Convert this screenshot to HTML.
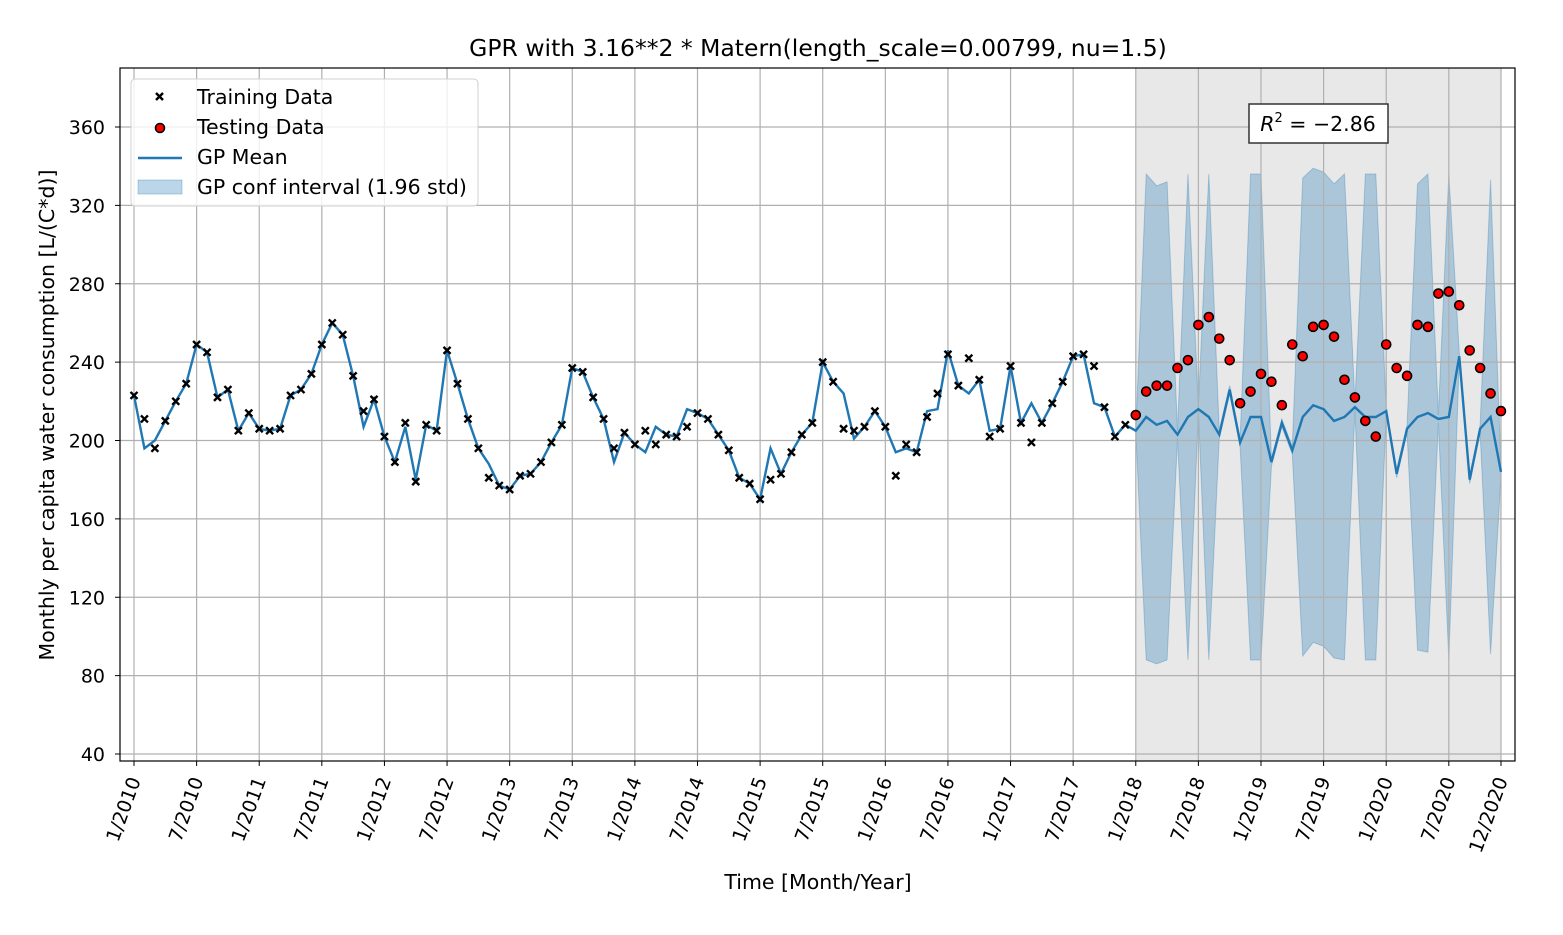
<!DOCTYPE html>
<html><head><meta charset="utf-8"><style>
body{margin:0;background:#fff;}
svg text{font-family:"DejaVu Sans","Liberation Sans",sans-serif;}
</style></head><body>
<svg id="chart" width="1563" height="930" xmlns="http://www.w3.org/2000/svg"></svg>
<script>
const training = [223,211,196,210,220,229,249,245,222,226,205,214,206,205,206,223,226,234,249,260,254,233,215,221,202,189,209,179,208,205,246,229,211,196,181,177,175,182,183,189,199,208,237,235,222,211,196,204,198,205,198,203,202,207,214,211,203,195,181,178,170,180,183,194,203,209,240,230,206,205,207,215,207,182,198,194,212,224,244,228,242,231,202,206,238,209,199,209,219,230,243,244,238,217,202,208];
const testing = [213,225,228,228,237,241,259,263,252,241,219,225,234,230,218,249,243,258,259,253,231,222,210,202,249,237,233,259,258,275,276,269,246,237,224,215];
const gpMean = [223,196,200,210,220,229,249,245,222,226,205,214,206,205,206,223,226,234,249,260,254,233,207,221,202,189,207,180,208,205,246,229,211,196,188,177,175,182,183,189,199,208,237,235,222,211,189,204,198,194,207,203,202,216,214,211,203,195,181,178,170,196,183,194,203,209,240,230,224,201,207,215,207,194,196,194,215,216,246,228,224,231,205,206,238,209,219,209,219,230,243,244,219,217,202,208,
205,212,208,210,203,212,216,212,203,226,199,212,212,189,209,195,212,218,216,210,212,217,212,212,215,183,206,212,214,211,212,243,180,206,212,184];
const ciHalf = [0,124,122,122,2,124,2,124,2,2,2,124,124,2,2,2,122,121,121,121,124,2,124,124,2,2,2,119,122,2,124,2,2,2,121,2];
const yTicks = [40,80,120,160,200,240,280,320,360];
const xTickIdx = [0,6,12,18,24,30,36,42,48,54,60,66,72,78,84,90,96,102,108,114,120,126,131];
const xTickLabels = ["1/2010","7/2010","1/2011","7/2011","1/2012","7/2012","1/2013","7/2013","1/2014","7/2014","1/2015","7/2015","1/2016","7/2016","1/2017","7/2017","1/2018","7/2018","1/2019","7/2019","1/2020","7/2020","12/2020"];

const NS="http://www.w3.org/2000/svg", svg=document.getElementById('chart');
const L=120,R=1515,T=68,B=761;
const X=i=>134+i*(1501-134)/131;
const Y=v=>754-(v-40)*(754-127)/320;
function el(tag,attrs,parent){const e=document.createElementNS(NS,tag);for(const k in attrs)e.setAttribute(k,attrs[k]);(parent||svg).appendChild(e);return e;}
const nTrain=training.length;

let g=el('rect',{x:X(nTrain),y:T,width:X(131)-X(nTrain),height:B-T,fill:'#e8e8e8'});



let up=[],lo=[];
for(let j=0;j<ciHalf.length;j++){const i=nTrain+j;up.push(X(i)+','+Y(gpMean[i]+ciHalf[j]));lo.unshift(X(i)+','+Y(gpMean[i]-ciHalf[j]));}
g=el('polygon',{points:up.concat(lo).join(' '),fill:'#1f77b4','fill-opacity':0.3,stroke:'#1f77b4','stroke-opacity':0.3,'stroke-width':1});



yTicks.forEach(v=>{g=el('line',{x1:L,x2:R,y1:Y(v),y2:Y(v),stroke:'#b0b0b0','stroke-width':1.2});


g=el('line',{x1:L-5,x2:L,y1:Y(v),y2:Y(v),stroke:'#000'});
g=el('text',{x:L-15,y:Y(v)+7,'text-anchor':'end','font-size':19});g.textContent=v;

});
xTickIdx.forEach((i,k)=>{g=el('line',{x1:X(i),x2:X(i),y1:T,y2:B,stroke:'#b0b0b0','stroke-width':1.2});


el('line',{x1:X(i),x2:X(i),y1:B,y2:B+5,stroke:'#000'});
g=el('text',{x:X(i)+7,y:B+19,'text-anchor':'end','font-size':19,transform:`rotate(-70 ${X(i)+7} ${B+19})`});g.textContent=xTickLabels[k];

});

g=el('polyline',{points:gpMean.map((v,i)=>X(i)+','+Y(v)).join(' '),fill:'none',stroke:'#1f77b4','stroke-width':2.4});



training.forEach((v,i)=>{const x=X(i),y=Y(v);g=el('path',{d:`M${x-3.5},${y-3.5}L${x+3.5},${y+3.5}M${x-3.5},${y+3.5}L${x+3.5},${y-3.5}`,stroke:'#000','stroke-width':2.4});

});
testing.forEach((v,j)=>{g=el('circle',{cx:X(nTrain+j),cy:Y(v),r:4.5,fill:'#ff0000',stroke:'#000','stroke-width':1.6});

});

g=el('rect',{x:L,y:T,width:R-L,height:B-T,fill:'none',stroke:'#000','stroke-width':1.2});



const lg=el('g',{});


el('rect',{x:131,y:79,width:347,height:127,rx:4,fill:'#fff','fill-opacity':0.8,stroke:'#d0d0d0'},lg);
el('path',{d:'M156,93L163,100M156,100L163,93',stroke:'#000','stroke-width':2.4},lg);
el('circle',{cx:160,cy:128,r:4.5,fill:'#f00',stroke:'#000','stroke-width':1.6},lg);
el('line',{x1:138,x2:182,y1:158,y2:158,stroke:'#1f77b4','stroke-width':2.4},lg);
el('rect',{x:138,y:180,width:44,height:14,fill:'#1f77b4','fill-opacity':0.3,stroke:'#1f77b4','stroke-opacity':0.3},lg);
[['Training Data',104],['Testing Data',134],['GP Mean',164],['GP conf interval (1.96 std)',194]].forEach(([t,y])=>{const e=el('text',{x:197,y:y,'font-size':20.5},lg);e.textContent=t;

});

const rb=el('g',{});


el('rect',{x:1249,y:104,width:139,height:39,fill:'#fff',stroke:'#333','stroke-width':1.5},rb);
let t=el('text',{x:1318,y:131,'text-anchor':'middle','font-size':20.5},rb);
t.innerHTML='<tspan font-style="italic">R</tspan><tspan font-size="13" dy="-9">2</tspan><tspan dy="9"> = −2.86</tspan>';

g=el('text',{x:818,y:56,'text-anchor':'middle','font-size':23.5});g.textContent='GPR with 3.16**2 * Matern(length_scale=0.00799, nu=1.5)';


g=el('text',{x:818,y:889,'text-anchor':'middle','font-size':20.5});g.textContent='Time [Month/Year]';


g=el('text',{x:54,y:415,'text-anchor':'middle','font-size':20.5,transform:'rotate(-90 54 415)'});g.textContent='Monthly per capita water consumption [L/(C*d)]';


</script>
</body></html>
